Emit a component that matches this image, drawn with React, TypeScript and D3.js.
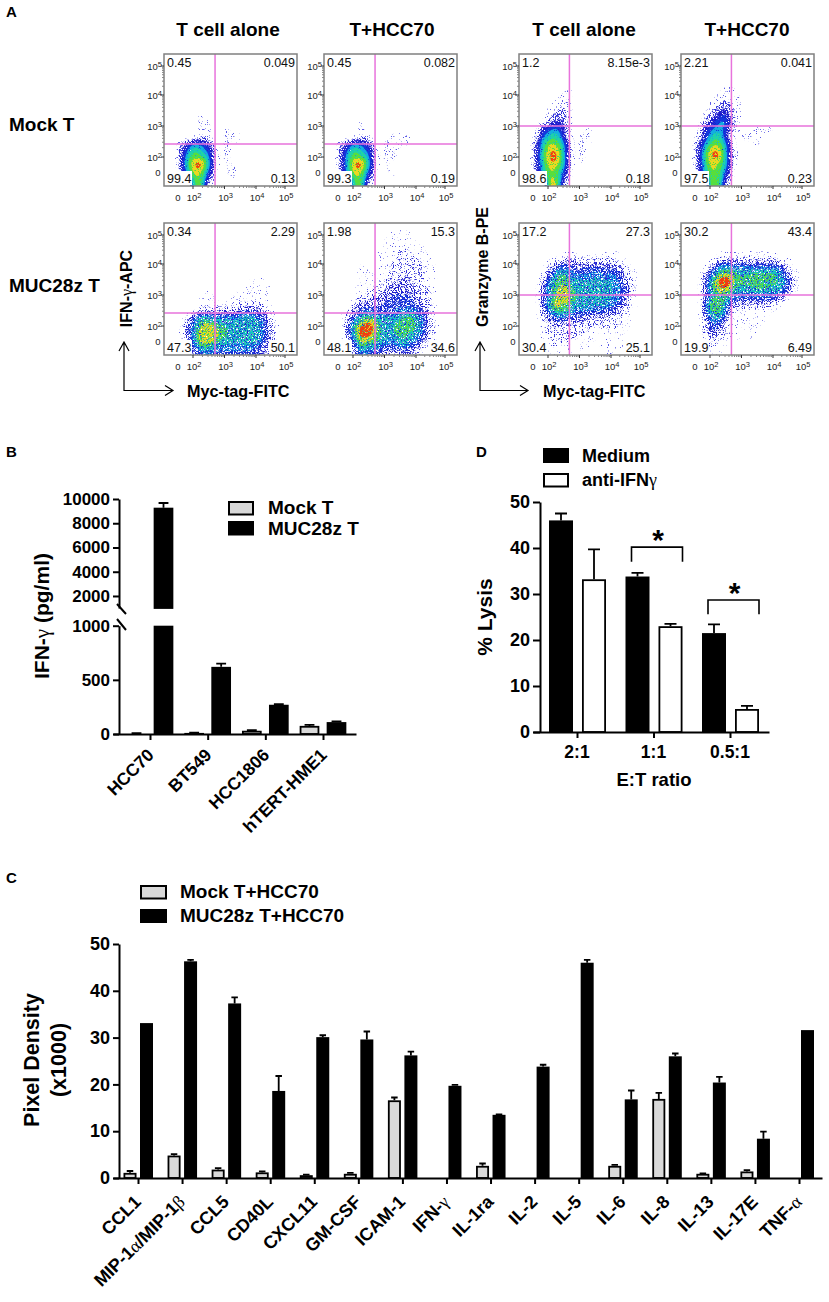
import React, { useEffect, useRef } from "react";
import * as d3 from "d3";

// ---------- Panel A: hand-read density levels (0-9), 20 x 20 cells per plot ----------
const blank = "00000000000000000000";
const mockIfnAlone = [blank, blank, blank, blank, blank, blank, blank, blank, blank,
  "00000100000000000000", "00000110000000000000", "00000110010000000000", "00000110011100000000",
  "00134431011000000000", "00246542010000000000", "00257652010000000000", "00268962010000000000",
  "00258852011000000000", "00047741001000000000", "00006720000000000000"];
const mockIfnHcc = [blank, blank, blank, blank, blank, blank, blank, blank, blank, blank,
  "00000100000000000000", "00000100100000000000", "00000110001110000000",
  "00134431011110000000", "00246542011000000000", "00257652011000000000", "00258962010000000000",
  "00258852010000000000", "00047741001000000000", "00006720000000000000"];
const mockGzbAlone = [blank, blank, blank, blank, blank,
  "00000001000000000000", "00000011000000000000", "00000111000000000000", "00001121000000000000",
  "00001221000000000000", "00012331000000000000", "00034531001000000000", "00145641011000000000",
  "00257752011000000000", "00258862010000000000", "00268962010000000000", "00258862010000000000",
  "00257752000000000000", "00047741000000000000", "00007830000000000000"];
const mockGzbHcc = [blank, blank, blank, blank,
  "00000000100000000000", "00000011000000000000", "00000111100000000000", "00001121100000000000",
  "00001232100000000000", "00012342100000000000", "00023452100000000000", "00034542100111000000",
  "00135641011100000000", "00246752001100000000", "00258862000000000000", "00268962100000000000",
  "00258762000000000000", "00257752000000000000", "00047741000000000000", "00007730000000000000"];
const carIfnAlone = [blank, blank, blank, blank, blank, blank, blank, blank,
  "00000000000001100000", "00000000000011110000", "00000010001011110000", "00000111001111110000",
  "00000111111222210000", "00012333333444321000", "00024665555565531000", "00035787665666532000",
  "00135888766666542000", "00035888665566532000", "00024776555555431000", "00013454444444321000"];
const carIfnHcc = [blank,
  "00000000001110000000", "00000000011111000000", "00000000011111100000", "00000000111221110000",
  "00000000111222110000", "00000100112222211000", "00000110112222211000", "00000111122232211000",
  "00000111223332211000", "00001112233333221000", "00001223334443221000", "00002333344444321000",
  "00023454444555431000", "00024677565676531000", "00036898656777532000", "00036998656766532000",
  "00025887655665421000", "00013766544554310000", "00002544333332100000"];
const carGzbAlone = [blank, blank, blank, blank,
  "00000001000001100000", "00000122222222110000", "00002344333333321000", "00003565444544432100",
  "00024676555555532100", "00035777565665543100", "00035787666665543100", "00035787666665542000",
  "00036877565555432100", "00024666444443321000", "00023444332222211000", "00012322222122211000",
  "00012222221111110000", "00011222111111110000", "00001211111011110000", "00001110100001000000"];
const carGzbHcc = [blank, blank, blank, blank,
  "00000011011011000000", "00000222222222211000", "00002455454444431000", "00024677656666642100",
  "00035898677777653100", "00036898666776653100", "00035776555555542000", "00026765444444320000",
  "00047763222222100000", "00036752111111000000", "00025541111110000000", "00024421111100000000",
  "00023321110100000000", "00013210101000000000", "00012110000000000000", "00001100000000000000"];

const flowLeft = [164, 324, 519, 681];
const flowTop = [54, 223];
const flowGrids = [
  [mockIfnAlone, mockIfnHcc, mockGzbAlone, mockGzbHcc],
  [carIfnAlone, carIfnHcc, carGzbAlone, carGzbHcc],
];
const flowPercents = [
  [["0.45", "0.049", "99.4", "0.13"], ["0.45", "0.082", "99.3", "0.19"], ["1.2", "8.15e-3", "98.6", "0.18"], ["2.21", "0.041", "97.5", "0.23"]],
  [["0.34", "2.29", "47.3", "50.1"], ["1.98", "15.3", "48.1", "34.6"], ["17.2", "27.3", "30.4", "25.1"], ["30.2", "43.4", "19.9", "6.49"]],
];
const gateExponents = [[2.7, 2.42], [2.7, 2.42], [2.68, 3], [2.68, 3]];
const bandThresholds = [0.5, 1.4, 2.4, 3.3, 4.2, 5.0, 6.0, 7.0, 8.0];
const bandColors = ["#5a5ae6", "#2f2fd8", "#1c1ccc", "#1238dc", "#12aee0", "#1fd3a6", "#58de3c", "#ecd820", "#ef3d12"];
const bandKeep = [0.66, 0.58, 0.52, 0.48, 0.5, 0.5, 0.48, 0.44, 0.38];
const bandKeepDense = [0.62, 0.5, 0.42, 0.36, 0.32, 0.32, 0.34, 0.36, 0.4];

// ---------- Panel B ----------
const bCategories = ["HCC70", "BT549", "HCC1806", "hTERT-HME1"];
const bMock = [5, 10, 30, 75];
const bMockErr = [7, 12, 35, 85];
const bCar = [9283, 620, 270, 110];
const bCarErr = [9670, 650, 276, 116];
const bUpperTicks = [2000, 4000, 6000, 8000, 10000];
const bLowerTicks = [0, 500, 1000];

// ---------- Panel C ----------
const cCategories = ["CCL1", "MIP-1α/MIP-1β", "CCL5", "CD40L", "CXCL11", "GM-CSF", "ICAM-1", "IFN-γ", "IL-1ra", "IL-2", "IL-5", "IL-6", "IL-8", "IL-13", "IL-17E", "TNF-α"];
const cMock = [1.1, 4.8, 1.8, 1.2, 0.6, 0.9, 16.6, 0.1, 2.6, 0.1, 0, 2.6, 16.9, 0.9, 1.4, 0.1];
const cMockErr = [1.5, 5.1, 2.1, 1.4, 0.7, 1.1, 17.2, 0.1, 3.1, 0.1, 0, 2.8, 18.2, 1.0, 1.7, 0.1];
const cCar = [33.1, 46.3, 37.3, 18.6, 30.1, 29.6, 26.2, 19.7, 13.5, 23.8, 46, 16.8, 26, 20.4, 8.4, 31.6];
const cCarErr = [33.1, 46.6, 38.6, 21.8, 30.5, 31.3, 27, 19.9, 13.6, 24.2, 46.6, 18.7, 26.6, 21.6, 9.9, 31.6];
const cTicks = [0, 10, 20, 30, 40, 50];

// ---------- Panel D ----------
const dCategories = ["2:1", "1:1", "0.5:1"];
const dMedium = [46, 33.8, 21.5];
const dMediumErr = [47.5, 34.6, 23.4];
const dAnti = [33.2, 23, 5];
const dAntiErr = [39.7, 23.5, 5.7];
const dTicks = [0, 10, 20, 30, 40, 50];
const dBrackets = [{ cat: 1, top: 40.2, bottom: 37 }, { cat: 2, top: 28.7, bottom: 25.6 }];

const SANS = "'Liberation Sans', Arial, sans-serif";
const SERIF = "'Liberation Serif', serif";

function Rich({ text }: { text: string }) {
  const parts = text.split(/([αβγ])/).filter(Boolean);
  return (
    <>
      {parts.map((p, i) =>
        /[αβγ]/.test(p) ? (
          <tspan key={i} fontFamily={SERIF} fontWeight="normal">{p}</tspan>
        ) : (
          <tspan key={i}>{p}</tspan>
        )
      )}
    </>
  );
}

function Axis({ kind, scale, values, size, fontSize, width = 2 }: any) {
  const ref = useRef<SVGGElement>(null);
  useEffect(() => {
    const axis = kind === "left" ? d3.axisLeft(scale) : d3.axisBottom(scale);
    axis.tickValues(values).tickSize(size).tickSizeOuter(0).tickPadding(3);
    if (kind === "bottom") axis.tickFormat(() => "");
    else axis.tickFormat((d: any) => String(d));
    const g = d3.select(ref.current!);
    g.call(axis as any);
    g.select(".domain").attr("stroke", "#000").attr("stroke-width", width);
    g.selectAll(".tick line").attr("stroke", "#000").attr("stroke-width", width);
    g.selectAll(".tick text").attr("fill", "#000").attr("font-family", SANS).attr("font-weight", "bold").attr("font-size", fontSize);
  }, []);
  return <g ref={ref} />;
}

function Bar({ x, w, y0, y1, fill, errY }: any) {
  const cx = x + w / 2;
  return (
    <g>
      {errY !== undefined && errY < y1 - 0.2 && (
        <path d={`M${cx},${y1}V${errY}M${cx - w / 4},${errY}H${cx + w / 4}`} stroke="#000" strokeWidth={1.8} fill="none" />
      )}
      <rect x={x + 0.9} y={y1 + 0.9} width={Math.max(w - 1.8, 0)} height={Math.max(y0 - y1 - 0.9, 0)} fill={fill} stroke="#000" strokeWidth={1.8} />
    </g>
  );
}

const flowW = 133;
const flowH = 132;
const flowX = d3.scaleLinear().domain([0, 2, 3, 4, 5]).range([14, 29, 60.5, 92, 121]);
const flowY = d3.scaleLinear().domain([0, 2, 3, 4, 5]).range([119, 103, 72, 41, 12]);
const flowExp = [2, 3, 4, 5];

function Power({ x, y, exp, anchor }: any) {
  return (
    <text x={x} y={y} textAnchor={anchor} fontFamily={SANS} fontSize={9.5} fill="#222">
      10<tspan dy={-3.5} fontSize={7.5}>{exp}</tspan>
    </text>
  );
}

function densityBands(rows: string[]) {
  const n = 20;
  const f = 3;
  const W = n * f;
  const values = new Float64Array(W * W);
  rows.forEach((row, r) => {
    Array.from(row).forEach((c, col) => {
      for (let a = 0; a < f; a++) for (let b = 0; b < f; b++) values[(r * f + a) * W + col * f + b] = +c;
    });
  });
  d3.blur2({ data: values, width: W, height: W }, 0.9);
  const sx = flowW / W;
  const sy = flowH / W;
  const path = d3.geoPath(
    d3.geoTransform({
      point(this: any, x: number, y: number) {
        this.stream.point(x * sx, y * sy);
      },
    })
  );
  return d3.contours().size([W, W]).thresholds(bandThresholds)(values as any).map((c) => path(c as any) || "");
}

function FlowPlot({ left, top, grid, percents, gate, id, grain }: any) {
  const bands = densityBands(grid);
  const vx = flowX(gate[0]);
  const hy = flowY(gate[1]);
  const box = (txt: string) => txt.length * 6.5 + 1;
  const minorX = flowExp.slice(0, 3).flatMap((e) => d3.range(2, 10).map((m) => flowX(e + Math.log10(m))));
  const minorY = flowExp.slice(0, 3).flatMap((e) => d3.range(2, 10).map((m) => flowY(e + Math.log10(m))));
  return (
    <g transform={`translate(${left},${top})`}>
      <clipPath id={id}><rect width={flowW} height={flowH} /></clipPath>
      <g clipPath={`url(#${id})`}>
        <g filter="url(#soft)">
          {bands.map((d, i) => (
            <g key={i} filter={`url(#${grain}${i})`}>
              <path d={d} fill={bandColors[i]} />
            </g>
          ))}
        </g>
      </g>
      <path d={`M${vx},0V${flowH}M0,${hy}H${flowW}`} stroke="#e873dc" strokeWidth={1.5} fill="none" />
      {/* corner percentages sit on white boxes as in the gating software */}
      <rect x={1} y={flowH - 15} width={box(percents[2])} height={14} fill="#fff" />
      <rect x={flowW - box(percents[3]) - 1} y={flowH - 15} width={box(percents[3])} height={14} fill="#fff" />
      <g fontFamily={SANS} fontSize={12.5} fill="#111">
        <text x={3} y={13}>{percents[0]}</text>
        <text x={flowW - 2} y={13} textAnchor="end">{percents[1]}</text>
        <text x={3} y={flowH - 3}>{percents[2]}</text>
        <text x={flowW - 2} y={flowH - 3} textAnchor="end">{percents[3]}</text>
      </g>
      <rect x={0} y={0} width={flowW} height={flowH} fill="none" stroke="#808080" strokeWidth={1.5} />
      {minorX.map((x, i) => <line key={i} x1={x} x2={x} y1={flowH + 0.5} y2={flowH + 2} stroke="#555" strokeWidth={0.7} />)}
      {minorY.map((y, i) => <line key={i} x1={-0.5} x2={-2} y1={y} y2={y} stroke="#555" strokeWidth={0.7} />)}
      {flowExp.map((e) => <line key={e} x1={flowX(e)} x2={flowX(e)} y1={flowH} y2={flowH + 3} stroke="#333" />)}
      {flowExp.map((e) => <line key={e} x1={0} x2={-3} y1={flowY(e)} y2={flowY(e)} stroke="#333" />)}
      <text x={flowX(0)} y={flowH + 15} textAnchor="middle" fontFamily={SANS} fontSize={9.5} fill="#222">0</text>
      {flowExp.map((e) => <Power key={e} x={flowX(e) + 1} y={flowH + 15} exp={e} anchor="middle" />)}
      <text x={-3.5} y={flowY(0) + 3} textAnchor="end" fontFamily={SANS} fontSize={9.5} fill="#222">0</text>
      {flowExp.map((e) => <Power key={e} x={-2} y={flowY(e) + 4} exp={e} anchor="end" />)}
    </g>
  );
}

function ArrowPair({ x, xEnd, yTop, yCorner }: any) {
  const d = `M${x},${yTop}V${yCorner}H${xEnd}M${x - 5},${yTop + 9}L${x},${yTop}L${x + 5},${yTop + 9}M${xEnd - 8},${yCorner - 5}L${xEnd},${yCorner}L${xEnd - 8},${yCorner + 5}`;
  return <path d={d} fill="none" stroke="#000" strokeWidth={1.2} />;
}

function GrainFilters({ prefix, keep }: { prefix: string; keep: number[] }) {
  return (
    <>
      {keep.map((t, i) => (
        <filter key={i} id={`${prefix}${i}`} x="-5%" y="-5%" width="110%" height="110%" colorInterpolationFilters="sRGB">
          <feTurbulence type="fractalNoise" baseFrequency={0.85} numOctaves={1} seed={i * 7 + 3} result="n" />
          <feColorMatrix in="n" type="matrix" values={`0 0 0 0 0  0 0 0 0 0  0 0 0 0 0  14 0 0 0 ${-14 * t}`} result="m" />
          <feComposite in="SourceGraphic" in2="m" operator="in" />
        </filter>
      ))}
    </>
  );
}

export default function App() {
  // Panel B scales
  const bBand = d3.scalePoint<string>().domain(bCategories).range([150, 323]);
  const bUp = d3.scaleLinear().domain([1000, 10000]).range([608.1, 499]);
  const bLow = d3.scaleLinear().domain([0, 1000]).range([734, 625.7]);
  const bW = 19.7;
  const bY = (v: number) => (v > 1000 ? bUp(v) : bLow(v));

  // Panel C scales
  const cBand = d3.scalePoint<string>().domain(cCategories).range([138, 799]);
  const cY = d3.scaleLinear().domain([0, 50]).range([1178, 944]);
  const cW = 13;

  // Panel D scales
  const dBand = d3.scalePoint<string>().domain(dCategories).range([577, 730]);
  const dY = d3.scaleLinear().domain([0, 50]).range([732, 502]);
  const dW = 24;

  return (
    <svg width={829} height={1302} viewBox="0 0 829 1302" style={{ position: "absolute", left: 0, top: 0, display: "block", background: "#fff" }} fontFamily={SANS}>
      <defs>
        <GrainFilters prefix="grain" keep={bandKeep} />
        <GrainFilters prefix="dense" keep={bandKeepDense} />
        <filter id="soft" x="-5%" y="-5%" width="110%" height="110%" colorInterpolationFilters="sRGB">
          <feGaussianBlur stdDeviation={0.3} />
        </filter>
      </defs>

      {/* Panel letters */}
      <g fontWeight="bold" fontSize={15}>
        <text x={6} y={17}>A</text>
        <text x={6} y={457}>B</text>
        <text x={6} y={883}>C</text>
        <text x={476} y={457}>D</text>
      </g>

      {/* Panel A */}
      <g fontWeight="bold" fontSize={19} textAnchor="middle">
        <text x={228} y={36}>T cell alone</text>
        <text x={392} y={36}>T+HCC70</text>
        <text x={584} y={36}>T cell alone</text>
        <text x={747} y={36}>T+HCC70</text>
      </g>
      <g fontWeight="bold" fontSize={19}>
        <text x={9} y={131}>Mock T</text>
        <text x={9} y={292}>MUC28z T</text>
      </g>
      {flowTop.map((top, r) =>
        flowLeft.map((left, c) => (
          <FlowPlot key={`${r}-${c}`} id={`clip${r}${c}`} left={left} top={top} grid={flowGrids[r][c]} percents={flowPercents[r][c]} gate={gateExponents[c]} grain={r === 0 ? "dense" : "grain"} />
        ))
      )}
      <ArrowPair x={124} xEnd={173} yTop={342} yCorner={390.5} />
      <ArrowPair x={480} xEnd={528} yTop={342} yCorner={390.5} />
      <text transform="translate(132,288.5) rotate(-90)" textAnchor="middle" fontWeight="bold" fontSize={16}><Rich text="IFN-γ-APC" /></text>
      <text transform="translate(488,267) rotate(-90)" textAnchor="middle" fontWeight="bold" fontSize={16}>Granzyme B-PE</text>
      <text x={187} y={397} fontWeight="bold" fontSize={16.2}>Myc-tag-FITC</text>
      <text x={543} y={397} fontWeight="bold" fontSize={16.2}>Myc-tag-FITC</text>

      {/* Panel B */}
      {bCategories.map((c, i) => {
        const t = bBand(c)!;
        const split = bCar[i] > 1000;
        return (
          <g key={c}>
            <Bar x={t - 13.5 - bW / 2} w={bW} y0={734} y1={bY(bMock[i])} fill="#d9d9d9" errY={bY(bMockErr[i])} />
            {split ? (
              <g>
                <Bar x={t + 13.5 - bW / 2} w={bW} y0={608} y1={bUp(bCar[i])} fill="#000" errY={bUp(bCarErr[i])} />
                <rect x={t + 13.5 - bW / 2} y={bLow(1000)} width={bW} height={734 - bLow(1000)} fill="#000" />
              </g>
            ) : (
              <Bar x={t + 13.5 - bW / 2} w={bW} y0={734} y1={bY(bCar[i])} fill="#000" errY={bY(bCarErr[i])} />
            )}
            <text transform={`translate(${t + 5},${756}) rotate(-45)`} textAnchor="end" fontWeight="bold" fontSize={17.5}>{c}</text>
          </g>
        );
      })}
      <path d="M117,604L126,614M117,619L126,630" stroke="#000" strokeWidth={2} fill="none" />
      <g transform="translate(119,0)">
        <Axis kind="left" scale={bUp} values={bUpperTicks} size={6} fontSize={17} />
        <Axis kind="left" scale={bLow} values={bLowerTicks} size={6} fontSize={17} />
      </g>
      <g transform="translate(0,734)">
        <Axis kind="bottom" scale={d3.scaleLinear().domain([113, 356]).range([113, 356])} values={bCategories.map((c) => bBand(c)!)} size={6} fontSize={10} />
      </g>
      <rect x={229} y={502} width={24} height={12.5} fill="#d9d9d9" stroke="#000" strokeWidth={2} />
      <rect x={228} y={521} width={26} height={14.5} fill="#000" />
      <g fontWeight="bold" fontSize={19}>
        <text x={268} y={514}>Mock T</text>
        <text x={268} y={535}>MUC28z T</text>
      </g>
      <text transform="translate(49,616) rotate(-90)" textAnchor="middle" fontWeight="bold" fontSize={21}><Rich text="IFN-γ (pg/ml)" /></text>

      {/* Panel D */}
      {dCategories.map((c, i) => {
        const t = dBand(c)!;
        return (
          <g key={c}>
            <Bar x={t - 16 - dW / 2} w={dW} y0={732} y1={dY(dMedium[i])} fill="#000" errY={dY(dMediumErr[i])} />
            <Bar x={t + 17 - dW / 2} w={dW} y0={732} y1={dY(dAnti[i])} fill="#fff" errY={dY(dAntiErr[i])} />
            <text x={t} y={758} textAnchor="middle" fontWeight="bold" fontSize={17.5}>{c}</text>
          </g>
        );
      })}
      <g transform="translate(540,0)">
        <Axis kind="left" scale={dY} values={dTicks} size={7} fontSize={18} />
      </g>
      <g transform="translate(0,732)">
        <Axis kind="bottom" scale={d3.scaleLinear().domain([533, 769]).range([533, 769])} values={dCategories.map((c) => dBand(c)!)} size={6} fontSize={10} />
      </g>
      {dBrackets.map((b) => {
        const t = dBand(dCategories[b.cat])!;
        const x0 = t - 22;
        const x1 = t + 29;
        return (
          <g key={b.cat}>
            <path d={`M${x0},${dY(b.bottom)}V${dY(b.top)}H${x1}V${dY(b.bottom)}`} fill="none" stroke="#000" strokeWidth={1.6} />
            <text x={(x0 + x1) / 2 + 1} y={dY(b.top) + 3} textAnchor="middle" fontWeight="bold" fontSize={30}>*</text>
          </g>
        );
      })}
      <rect x={543} y={448} width={26} height={15} fill="#000" />
      <rect x={544} y={474} width={24} height={12.5} fill="#fff" stroke="#000" strokeWidth={2} />
      <g fontWeight="bold" fontSize={18}>
        <text x={582} y={462}>Medium</text>
        <text x={582} y={486}><Rich text="anti-IFNγ" /></text>
      </g>
      <text transform="translate(492,617) rotate(-90)" textAnchor="middle" fontWeight="bold" fontSize={21}>% Lysis</text>
      <text x={654} y={786} textAnchor="middle" fontWeight="bold" fontSize={18.5}>E:T ratio</text>

      {/* Panel C */}
      {cCategories.map((c, i) => {
        const t = cBand(c)!;
        return (
          <g key={c}>
            {cMock[i] > 0 && <Bar x={t - 8 - cW / 2} w={cW} y0={1178} y1={cY(cMock[i])} fill="#d9d9d9" errY={cY(cMockErr[i])} />}
            <Bar x={t + 8.5 - cW / 2} w={cW} y0={1178} y1={cY(cCar[i])} fill="#000" errY={cY(cCarErr[i])} />
            <text transform={`translate(${t + 4},${1203}) rotate(-45)`} textAnchor="end" fontWeight="bold" fontSize={18}><Rich text={c} /></text>
          </g>
        );
      })}
      <g transform="translate(119,0)">
        <Axis kind="left" scale={cY} values={cTicks} size={6} fontSize={18} />
      </g>
      <g transform="translate(0,1178)">
        <Axis kind="bottom" scale={d3.scaleLinear().domain([113, 822]).range([113, 822])} values={cCategories.map((c) => cBand(c)!)} size={6} fontSize={10} />
      </g>
      <rect x={141} y={886} width={25} height={12.5} fill="#d9d9d9" stroke="#000" strokeWidth={2} />
      <rect x={140} y={909} width={27} height={14} fill="#000" />
      <g fontWeight="bold" fontSize={19}>
        <text x={180} y={898}>Mock T+HCC70</text>
        <text x={180} y={922}>MUC28z T+HCC70</text>
      </g>
      <g fontWeight="bold" fontSize={21.5} textAnchor="middle">
        <text transform="translate(39,1060) rotate(-90)">Pixel Density</text>
        <text transform="translate(66,1060) rotate(-90)">(x1000)</text>
      </g>
    </svg>
  );
}
